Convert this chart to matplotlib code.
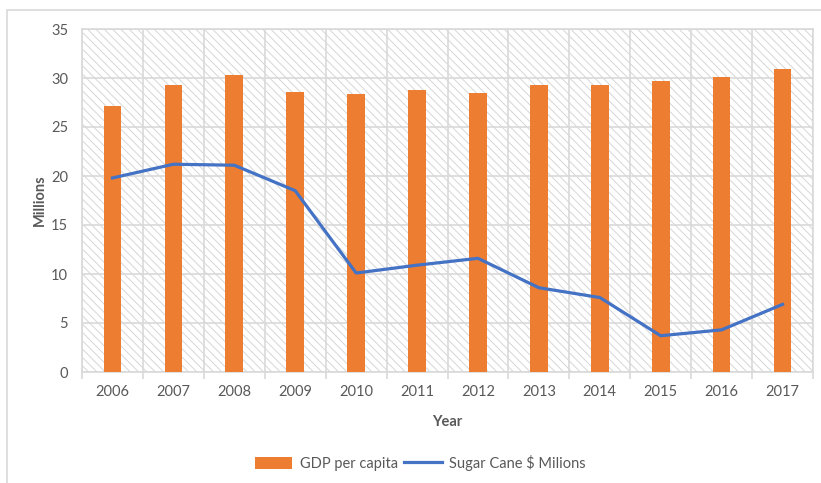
import matplotlib
matplotlib.use("Agg")
import matplotlib.pyplot as plt
import numpy as np
from matplotlib.patches import Rectangle

# chart data
years = ["2006", "2007", "2008", "2009", "2010", "2011",
         "2012", "2013", "2014", "2015", "2016", "2017"]
gdp_per_capita = [27.1, 29.3, 30.3, 28.6, 28.4, 28.8,
                  28.5, 29.3, 29.3, 29.7, 30.1, 30.9]
sugar_cane = [19.8, 21.2, 21.1, 18.5, 10.1, 10.9,
              11.6, 8.6, 7.6, 3.7, 4.3, 6.9]
y_ticks = [0, 5, 10, 15, 20, 25, 30, 35]

plt.rcParams['font.family'] = ['Lato', 'DejaVu Sans']
plt.rcParams['hatch.linewidth'] = 0.7
plt.rcParams['hatch.color'] = '#d6d6d6'

text_col = '#595959'
grid_col = '#d9d9d9'

fig = plt.figure(figsize=(8.21, 4.83), dpi=100)
ax = fig.add_axes([82 / 821, 1 - 372 / 483, (813 - 82) / 821, (372 - 29) / 483])

# outer chart frame
fig.patches.append(Rectangle((7 / 821, -0.1), 1.1, 1 - 10 / 483 + 0.1,
                             transform=fig.transFigure, fill=False,
                             edgecolor='#d9d9d9', linewidth=1.2))

x = np.arange(len(years))
ax.set_xlim(-0.5, len(years) - 0.5)
ax.set_ylim(0, 35)

# hatched plot background
ax.add_patch(Rectangle((0, 0), 1, 1, transform=ax.transAxes, facecolor='white',
                       edgecolor='#d6d6d6', hatch='\\\\\\\\', linewidth=0, zorder=0))

bars = ax.bar(x, gdp_per_capita, width=0.29, color='#ed7d31', zorder=3, label='GDP per capita')
line, = ax.plot(x, sugar_cane, color='#4472c4', linewidth=2.3, zorder=4,
                label='Sugar Cane $ Milions', solid_joinstyle='round')

# grid lines
ax.set_yticks(y_ticks)
ax.set_xticks(x)
ax.set_xticklabels(years)
ax.set_xticks(np.arange(-0.5, len(years)), minor=True)
ax.yaxis.grid(True, color=grid_col, linewidth=1.2, zorder=1)
ax.xaxis.grid(True, which='minor', color=grid_col, linewidth=1.2, zorder=1)
ax.set_axisbelow(True)

ax.tick_params(axis='x', which='major', length=0, labelsize=10.5, labelcolor=text_col, pad=9)
ax.tick_params(axis='x', which='minor', length=5, color=grid_col, width=1.2)
ax.tick_params(axis='y', length=0, labelsize=10.5, labelcolor=text_col, pad=10)

for side in ['top', 'right', 'left', 'bottom']:
    ax.spines[side].set_color(grid_col)
    ax.spines[side].set_linewidth(1.2)

ax.set_xlabel('Year', fontsize=10.5, fontweight='bold', color=text_col, labelpad=12)
ax.set_ylabel('Millions', fontsize=10.5, fontweight='bold', color=text_col, labelpad=3)

leg = fig.legend([bars, line], ['GDP per capita', 'Sugar Cane $ Milions'],
                 loc='center', bbox_to_anchor=(420 / 821, 1 - 463 / 483), ncol=2,
                 frameon=False, fontsize=10.5, handlelength=2.6, handleheight=0.9,
                 columnspacing=0.4, handletextpad=0.5)
for t in leg.get_texts():
    t.set_color(text_col)

fig.savefig('out.png', dpi=100)
